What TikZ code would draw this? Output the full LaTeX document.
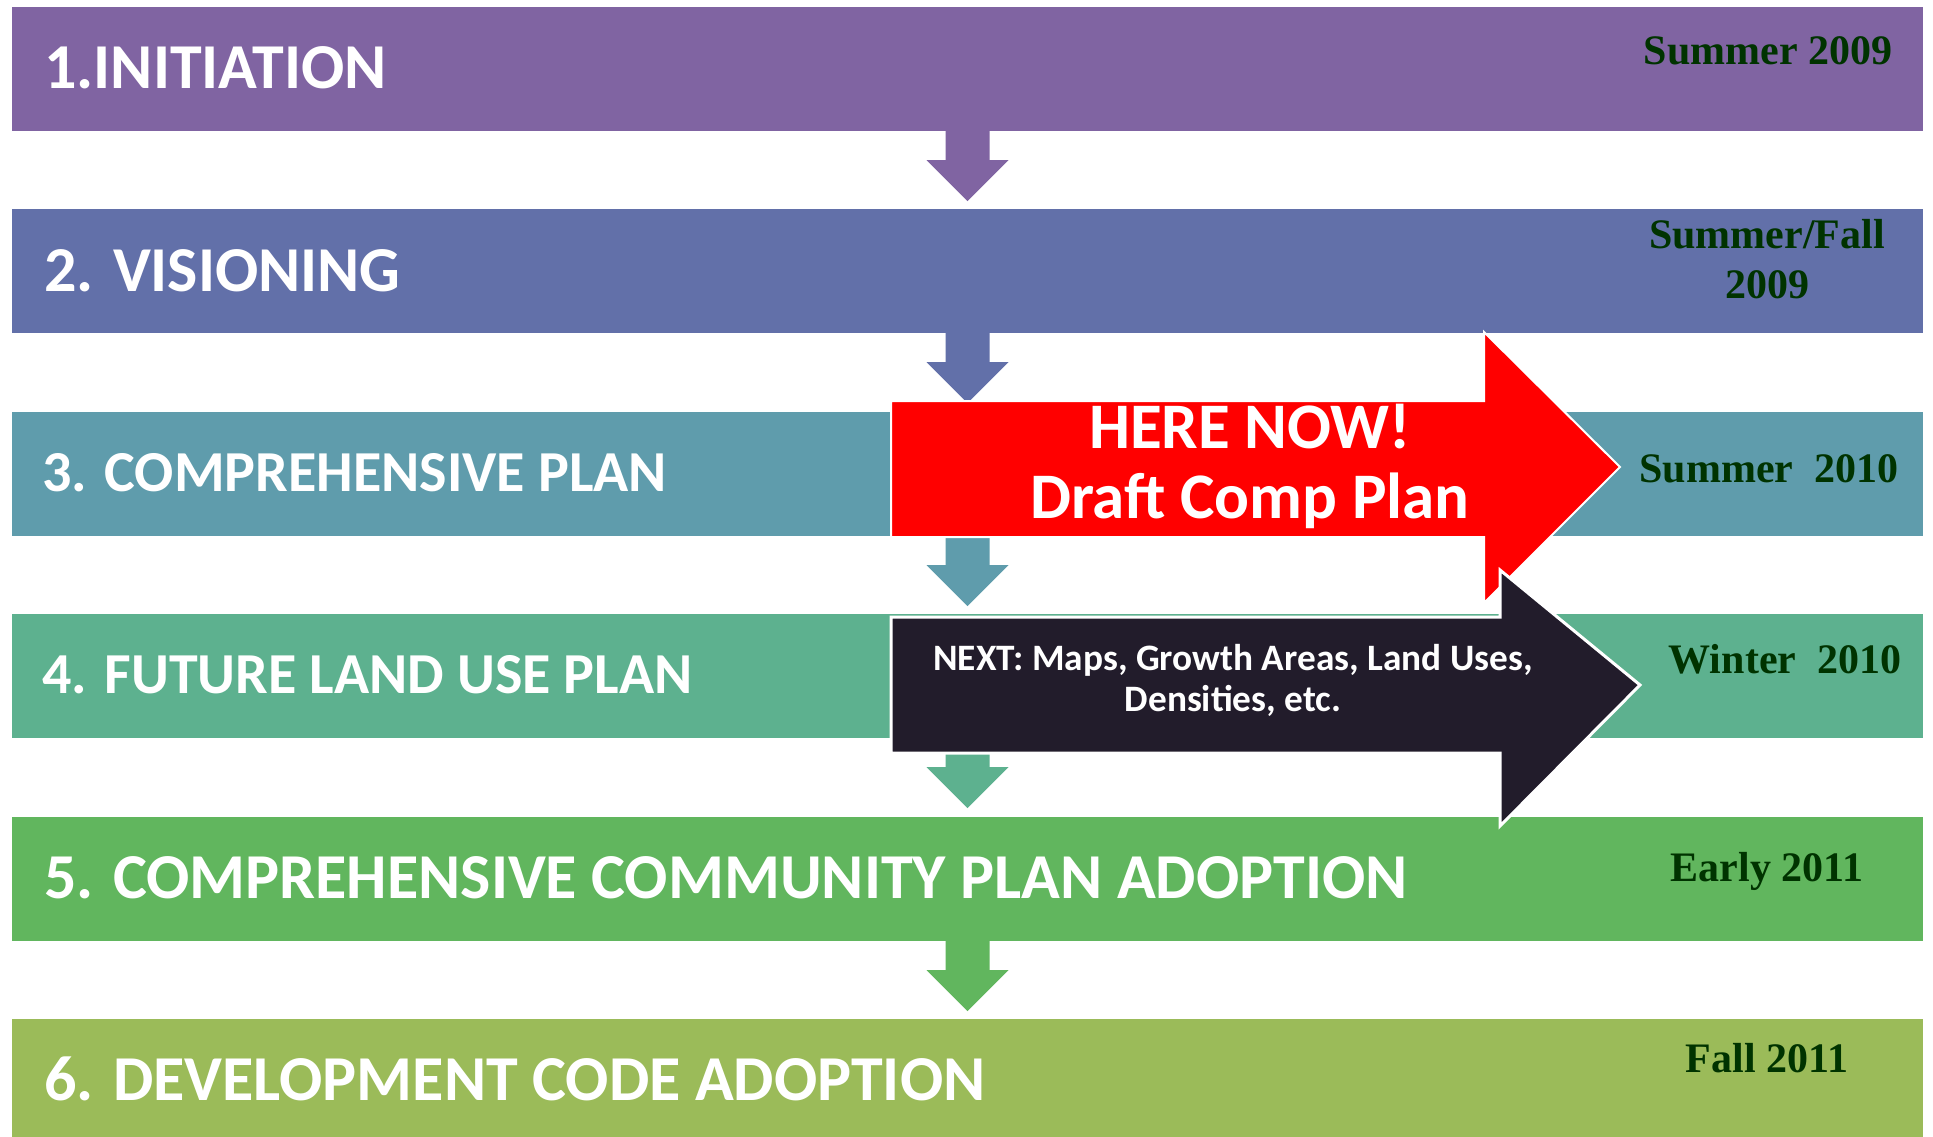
\documentclass[tikz,border=0pt]{standalone}
\usepackage{fontspec}
\newfontfamily\calib{Carlito}
\newfontfamily\tms{Liberation Serif}
\definecolor{cA}{HTML}{8064A2}
\definecolor{cB}{HTML}{6270A9}
\definecolor{cC}{HTML}{5F9CAC}
\definecolor{cD}{HTML}{5DB18F}
\definecolor{cE}{HTML}{61B65E}
\definecolor{cF}{HTML}{9BBB59}
\definecolor{blk}{HTML}{221C2B}
\definecolor{dgreen}{HTML}{003300}
\tikzset{
  bar/.style={rectangle, inner sep=0pt, minimum width=1911pt, minimum height=124pt},
  lab/.style={anchor=base west, inner sep=0pt, text=white, font=\calib\bfseries\fontsize{64}{70}\selectfont},
  labsm/.style={lab, font=\calib\bfseries\fontsize{58}{64}\selectfont},
  date/.style={anchor=base, inner sep=0pt, text=dgreen, font=\tms\bfseries\fontsize{42}{50}\selectfont},
  bigtxt/.style={anchor=base, inner sep=0pt, text=white, font=\calib\bfseries\fontsize{65}{70}\selectfont},
  nexttxt/.style={anchor=base, inner sep=0pt, text=white, font=\calib\bfseries\fontsize{37.3}{40}\selectfont},
}
\newcommand{\downarr}[2]{%
  \fill[#2] (#1.south) ++(-22,0) -- ++(0,29) -- ++(-19,0) -- ++(41,41) -- ++(41,-41) -- ++(-19,0) -- ++(0,-29) -- cycle;}
\begin{document}
\begin{tikzpicture}[x=1pt,y=-1pt]
\useasboundingbox[fill=white] (0,0) rectangle (1933,1137);
\begin{scope}
\clip (0,0) rectangle (1933,1137);
\node[bar, fill=cA] (b1) at (967.5,69) {};
\node[bar, fill=cB] (b2) at (967.5,271) {};
\node[bar, fill=cC] (b3) at (967.5,474) {};
\node[bar, fill=cD] (b4) at (967.5,676) {};
\node[bar, fill=cE] (b5) at (967.5,879) {};
\node[bar, fill=cF] (b6) at (967.5,1081) {};
\end{scope}
\downarr{b1}{cA}
\downarr{b2}{cB}
\downarr{b3}{cC}
\downarr{b4}{cD}
\downarr{b5}{cE}
% red arrow
\fill[red, draw=white, line width=2pt, line join=miter]
  (891,401) -- (1484,401) -- (1484,332) -- (1620,467) -- (1484,603) -- (1484,537) -- (891,537) -- cycle;
% black arrow
\fill[blk, draw=white, line width=3pt, line join=miter]
  (891,617) -- (1500,617) -- (1500,570) -- (1640,685) -- (1500,826) -- (1500,753) -- (891,753) -- cycle;
% labels
\node[lab] (l1) at (44,89) {1.INITIATION};
\node[lab] (l2) at (44,291) {2. VISIONING};
\node[labsm] (l3) at (42,491) {3. COMPREHENSIVE PLAN};
\node[labsm] (l4) at (42,693) {4. FUTURE LAND USE PLAN};
\node[lab] (l5) at (44,898) {5. COMPREHENSIVE COMMUNITY PLAN ADOPTION};
\node[lab] (l6) at (44,1100) {6. DEVELOPMENT CODE ADOPTION};
% arrow texts
\node[bigtxt] (n1) at (1250,448) {HERE NOW!};
\node[bigtxt] (n2) at (1250,518) {Draft Comp Plan};
\node[nexttxt] (x1) at (1233,670) {NEXT: Maps, Growth Areas, Land Uses,};
\node[nexttxt] (x2) at (1233,711) {Densities, etc.};
% dates
\node[date] (d1) at (1768,65) {Summer 2009};
\node[date] (d2a) at (1767,248) {Summer/Fall};
\node[date] (d2b) at (1767,298) {2009};
\node[date] (d3) at (1769,482) {Summer\ \ 2010};
\node[date] (d4) at (1785,673) {Winter\ \ 2010};
\node[date] (d5) at (1767,881) {Early 2011};
\node[date] (d6) at (1767,1072) {Fall 2011};
\end{tikzpicture}
\end{document}
